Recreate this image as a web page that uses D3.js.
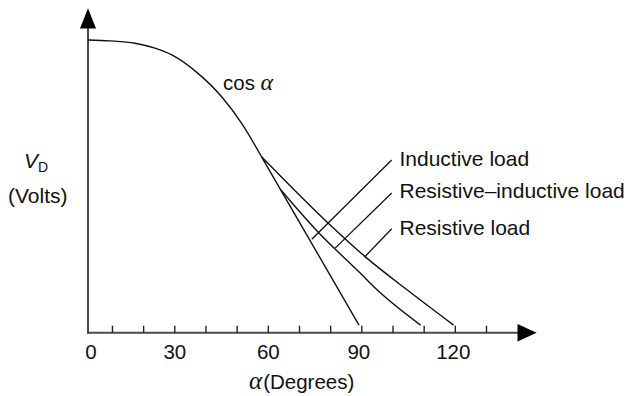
<!DOCTYPE html>
<html><head><meta charset="utf-8">
<script src="https://cdn.jsdelivr.net/npm/d3@7"></script>
<style>
body{margin:0;background:#fff}
svg{display:block}
text{font-family:"Liberation Sans",Arial,Helvetica,sans-serif;fill:#111}
.greek{font-family:"Liberation Serif","Times New Roman",serif;font-style:italic}
</style>
</head><body><svg id="c" width="629" height="396"></svg>
<script>
// ---- data ----
const minorTicks = [10,20,30,40,50,60,70,80,90,100,110,120,130];
const tickLabels = [0,30,60,90,120];
// common cos α segment (α in degrees, V normalised)
const cosAlpha = [2.3, 9.4, 17.4, 23.8, 29.2, 37.6, 45.2, 51.6, 58.0];
const cosV     = [1.0, 0.997, 0.989, 0.972, 0.949, 0.886, 0.806, 0.715, 0.601];
// branches
const inductiveAlpha = [58.0, 89.25];
const inductiveV     = [0.601, 0.026];
const rlAlpha = [64.2, 76.1, 89.9, 94.1, 109.0];
const rlV     = [0.4875, 0.344, 0.201, 0.156, 0.026];
const rAlpha  = [58.0, 79.4, 91.2, 105.6, 119.6];
const rV      = [0.601, 0.374, 0.260, 0.139, 0.026];
// annotations
const loadLabels  = ["Inductive load", "Resistive\u2013inductive load", "Resistive load"];
const leaderAlpha = [74.1, 81.6, 91.0];
const leaderV     = [0.319, 0.289, 0.258];

// ---- layout ----
const svg = d3.select("#c");
const x = d3.scaleLinear().domain([0,130]).range([80.8, 486]);
const y = d3.scaleLinear().domain([0,1]).range([332.7, 40]);
const axisX0 = 88, axisY0 = y(0);
const axisColor = "#4a4a4a";

// y axis line + arrow
svg.append("line").attr("x1",axisX0).attr("x2",axisX0).attr("y1",axisY0+1).attr("y2",26)
  .attr("stroke",axisColor).attr("stroke-width",2);
svg.append("path").attr("d",`M${axisX0},8.3 L${axisX0-8},28.5 L${axisX0+8},28.5 Z`).attr("fill","#000");

// x axis line + arrow
svg.append("line").attr("x1",axisX0-1).attr("x2",520).attr("y1",axisY0).attr("y2",axisY0)
  .attr("stroke",axisColor).attr("stroke-width",2);
svg.append("path").attr("d",`M536.7,${axisY0} L517.5,${axisY0-8.7} L517.5,${axisY0+8.7} Z`).attr("fill","#000");

// minor ticks
const gt = svg.append("g").attr("transform",`translate(0,${axisY0})`)
  .call(d3.axisBottom(x).tickValues(minorTicks).tickSize(-7).tickFormat(""));
gt.select(".domain").remove();
gt.selectAll(".tick line").attr("stroke","#222").attr("stroke-width",1.4);

// tick labels
const gl = svg.append("g").attr("transform",`translate(0,${axisY0})`)
  .call(d3.axisBottom(x).tickValues(tickLabels).tickSize(0).tickPadding(12).tickFormat(d=>d));
gl.select(".domain").remove();
gl.selectAll(".tick text").attr("font-size",20.5).attr("font-family","Liberation Sans, Arial, sans-serif").attr("fill","#111");
gl.selectAll(".tick").filter(d=>d===0).select("text").attr("x", axisX0 + 2.5 - x(0));
gl.selectAll(".tick").filter(d=>d===90).select("text").attr("x", -3);
gl.selectAll(".tick").filter(d=>d===120).select("text").attr("x", -2);

// curves
const line = d3.line().x(d=>x(d[0])).y(d=>y(d[1])).curve(d3.curveMonotoneX);
const lin  = d3.line().x(d=>x(d[0])).y(d=>y(d[1]));
const zip = (a,b)=>a.map((v,i)=>[v,b[i]]);
const curveStyle = s => s.attr("fill","none").attr("stroke","#111").attr("stroke-width",1.4);
svg.append("path").datum(zip(cosAlpha,cosV)).attr("d",line).call(curveStyle);
svg.append("path").datum(zip(inductiveAlpha,inductiveV)).attr("d",lin).call(curveStyle);
svg.append("path").datum(zip(rlAlpha,rlV)).attr("d",line).call(curveStyle);
svg.append("path").datum(zip(rAlpha,rV)).attr("d",line).call(curveStyle);

// leaders and labels
const labelX = 399.5, leaderEndX = 391.7;
const labelBase = [166, 198.3, 235];
const leaderTopY = [160, 193, 228.8];
loadLabels.forEach((t,i)=>{
  svg.append("line").attr("x1",x(leaderAlpha[i])).attr("y1",y(leaderV[i]))
    .attr("x2",leaderEndX).attr("y2",leaderTopY[i])
    .attr("stroke","#111").attr("stroke-width",1.3);
  svg.append("text").attr("x",labelX).attr("y",labelBase[i]).attr("font-size",21).text(t);
});

// cos α label
const cl = svg.append("text").attr("x",223).attr("y",90).attr("font-size",20.5);
cl.append("tspan").text("cos ");
cl.append("tspan").attr("class","greek").attr("font-size",24).text("\u03B1");

// y label
const yl = svg.append("text").attr("x",24).attr("y",168.3).attr("font-size",21);
yl.append("tspan").attr("font-style","italic").text("V");
yl.append("tspan").attr("font-size",14).attr("dy",4).text("D");
svg.append("text").attr("x",8).attr("y",202.5).attr("font-size",21).text("(Volts)");

// x label
const xl = svg.append("text").attr("x",249).attr("y",389).attr("font-size",20.5);
xl.append("tspan").attr("class","greek").attr("font-size",25).text("\u03B1");
xl.append("tspan").attr("dx",1).text("(Degrees)");
</script>
</body></html>
